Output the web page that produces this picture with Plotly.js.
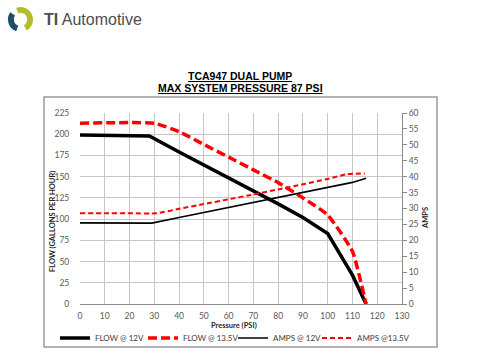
<!DOCTYPE html>
<html>
<head>
<meta charset="utf-8">
<script src="https://cdn.plot.ly/plotly-3.0.1.min.js"></script>
<style>html,body{margin:0;padding:0;background:#fff;}#chart{width:480px;height:356px;}</style>
</head>
<body>
<div id="chart"></div>
<script>
// ---- Data ----
var flow12Pressure = [0, 28, 40, 50, 60, 70, 80, 90, 100, 110, 115.5];
var flow12Values   = [199, 198, 179, 164, 149, 134, 118, 102, 83, 34, 0];

var flow135Pressure = [0, 30, 40, 50, 60, 70, 80, 90, 100, 110, 115.5];
var flow135Values   = [213, 213, 203, 188, 173, 158, 143, 125, 105, 62, 0];

var amps12Pressure = [0, 10, 20, 29, 40, 50, 60, 70, 80, 90, 100, 110, 115.5];
var amps12Values   = [25.5, 25.5, 25.5, 25.4, 27.2, 28.8, 30.4, 32.0, 33.5, 35.0, 36.6, 38.2, 39.5];

var amps135Pressure = [0, 10, 20, 31, 40, 50, 60, 70, 80, 90, 100, 108, 115];
var amps135Values   = [28.5, 28.5, 28.5, 28.5, 29.9, 31.4, 32.9, 34.4, 36.0, 37.6, 39.3, 40.8, 41.0];

var seriesNames = ['FLOW @ 12V', 'FLOW @ 13.5V', 'AMPS @ 12V', 'AMPS @13.5V'];
var titleLines = ['TCA947 DUAL PUMP', 'MAX SYSTEM PRESSURE 87 PSI'];
var axisTitles = {x: 'Pressure (PSI)', y: 'FLOW (GALLONS PER HOUR)', y2: 'AMPS'};

// ---- Geometry helpers (pixel -> paper) ----
var PL = 80, PR = 402, PT = 113, PB = 304;
function px(x) { return (x - PL) / (PR - PL); }
function py(y) { return (PB - y) / (PB - PT); }

var traces = [
  {x: flow12Pressure, y: flow12Values, name: seriesNames[0], mode: 'lines', yaxis: 'y', legend: 'legend',
   line: {color: '#000000', width: 3.5}},
  {x: flow135Pressure, y: flow135Values, name: seriesNames[1], mode: 'lines', yaxis: 'y', legend: 'legend2',
   line: {color: '#ff0000', width: 3.5, dash: '9px,4px', shape: 'spline', smoothing: 0.4}},
  {x: amps12Pressure, y: amps12Values, name: seriesNames[2], mode: 'lines', yaxis: 'y2', legend: 'legend3',
   line: {color: '#000000', width: 1.6}},
  {x: amps135Pressure, y: amps135Values, name: seriesNames[3], mode: 'lines', yaxis: 'y2', legend: 'legend4',
   line: {color: '#ff0000', width: 2, dash: '5px,3px', shape: 'spline', smoothing: 0.4}}
];

var tickFont = {family: 'Lato, "Open Sans", sans-serif', size: 8.5, color: '#595959'};
var axTitleFont = {family: 'Lato, "Open Sans", sans-serif', size: 7.5, color: '#262626', weight: 'bold'};

function legendAt(xPix) {
  return {
    orientation: 'h', x: px(xPix), y: py(338), xanchor: 'left', yanchor: 'middle',
    font: {family: 'Lato, "Open Sans", sans-serif', size: 8, color: '#404040'},
    itemwidth: 30, bgcolor: 'rgba(0,0,0,0)', borderwidth: 0
  };
}

var logoSvg = '<svg xmlns="http://www.w3.org/2000/svg" width="30" height="30" viewBox="0 0 30 30">' +
  '<path d="M11.58 5.6 A10 10 0 0 1 20 23.66" fill="none" stroke="#b3bd2c" stroke-width="6"/>' +
  '<path d="M11.58 24.4 A10 10 0 0 1 6.81 9.26" fill="none" stroke="#1d4f6c" stroke-width="6"/>' +
  '</svg>';

function note(text, xPix, yPix, font, extra) {
  var a = {xref: 'paper', yref: 'paper', x: px(xPix), y: py(yPix), xanchor: 'center', yanchor: 'middle',
           text: text, showarrow: false, font: font};
  for (var k in (extra || {})) a[k] = extra[k];
  return a;
}
var titleFont = {family: '"Liberation Sans", Arial, sans-serif', size: 10.5, color: '#000000'};

var layout = {
  width: 480, height: 356,
  margin: {l: PL, r: 480 - PR, t: PT, b: 356 - PB, pad: 0, autoexpand: false},
  paper_bgcolor: '#ffffff', plot_bgcolor: '#ffffff',
  showlegend: true,
  legend: legendAt(55),
  legend2: legendAt(143),
  legend3: legendAt(233),
  legend4: legendAt(317),
  xaxis: {
    range: [0, 130], dtick: 10, tick0: 0,
    showgrid: true, gridcolor: '#c6c6c6', gridwidth: 1,
    showline: true, linecolor: '#8c8c8c', linewidth: 1,
    zeroline: false, ticks: 'outside', ticklen: 4, tickcolor: 'rgba(0,0,0,0)',
    tickfont: tickFont
  },
  yaxis: {
    range: [0, 225], dtick: 25, tick0: 0,
    showgrid: true, gridcolor: '#c6c6c6', gridwidth: 1,
    showline: false, zeroline: false,
    ticks: 'outside', ticklen: 8, tickcolor: 'rgba(0,0,0,0)',
    tickfont: tickFont
  },
  yaxis2: {
    range: [0, 60], dtick: 5, tick0: 0,
    overlaying: 'y', side: 'right',
    showgrid: false, zeroline: false,
    showline: true, linecolor: '#8c8c8c', linewidth: 1,
    ticks: 'outside', ticklen: 4, tickcolor: '#8c8c8c',
    tickfont: tickFont
  },
  shapes: [
    {type: 'rect', xref: 'paper', yref: 'paper',
     x0: px(44), x1: px(437), y0: py(347), y1: py(97),
     line: {color: '#9a9a9a', width: 1.5}, fillcolor: 'rgba(0,0,0,0)', layer: 'below'}
  ],
  annotations: [
    note('<b><u>' + titleLines[0] + '</u></b>', 240, 76, titleFont),
    note('<b><u>' + titleLines[1] + '</u></b>', 240, 88, titleFont),
    note('<b>' + axisTitles.x + '</b>', 234, 325, axTitleFont),
    note('<b>' + axisTitles.y + '</b>', 52, 222, axTitleFont, {textangle: -90}),
    note('<b>' + axisTitles.y2 + '</b>', 425, 218, axTitleFont, {textangle: -90}),
    note('<b>TI</b> Automotive', 42, 19,
         {family: '"Liberation Sans", Arial, sans-serif', size: 16, color: '#4d4d4d'}, {xanchor: 'left'})
  ],
  images: [
    {source: 'data:image/svg+xml;charset=utf-8,' + encodeURIComponent(logoSvg),
     xref: 'paper', yref: 'paper', x: px(6), y: py(5), sizex: 29 / (PR - PL), sizey: 29 / (PB - PT),
     xanchor: 'left', yanchor: 'top', sizing: 'stretch', layer: 'above'}
  ]
};

Plotly.newPlot('chart', traces, layout, {displayModeBar: false, staticPlot: true});
</script>
</body>
</html>
